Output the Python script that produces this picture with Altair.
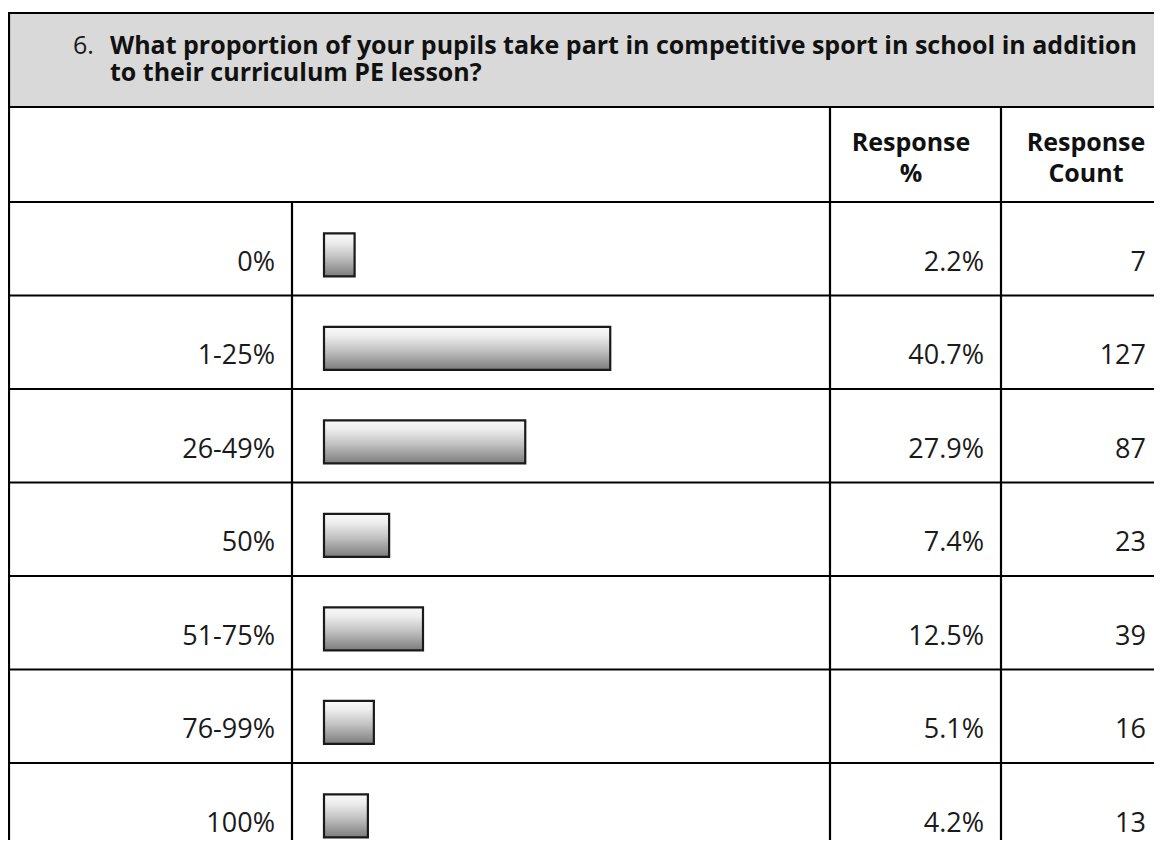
import altair as alt
import pandas as pd

# ---- data ----
categories = ["0%", "1-25%", "26-49%", "50%", "51-75%", "76-99%", "100%"]
response_pct = [2.2, 40.7, 27.9, 7.4, 12.5, 5.1, 4.2]
response_count = [7, 127, 87, 23, 39, 16, 13]

question_number = "6."
question_lines = [
    "What proportion of your pupils take part in competitive sport in school in addition",
    "to their curriculum PE lesson?",
]
header_pct = ["Response", "%"]
header_count = ["Response", "Count"]

df = pd.DataFrame({
    "category": categories,
    "pct": response_pct,
    "count": response_count,
    "row": list(range(len(categories))),
})
df["pct_label"] = [f"{p:.1f}%" for p in response_pct]
df["count_label"] = [str(c) for c in response_count]

W, H = 1146, 832
FONT = "Open Sans"
LINE = "#000000"
LW = 2.2
BODY = 27
HEAD = 25
TITLE = 25

yscale = alt.Scale(domain=[0, 7], range=[194, 848.5])
xscale = alt.Scale(domain=[0, 100], range=[332, 996])

one = alt.Data(values=[{"k": 1}])

# gray question band
band = alt.Chart(one).mark_rect(color="#d9d9d9").encode(
    x=alt.value(1), x2=alt.value(W), y=alt.value(5), y2=alt.value(99)
)

# horizontal lines
hl_top = alt.Chart(one).mark_rule(color=LINE, strokeWidth=LW).encode(
    x=alt.value(0), x2=alt.value(W), y=alt.value(5))
hl_band = alt.Chart(one).mark_rule(color=LINE, strokeWidth=LW).encode(
    x=alt.value(1), x2=alt.value(W), y=alt.value(99))
bounds = pd.DataFrame({"row": list(range(len(categories)))})
hl_rows = alt.Chart(bounds).mark_rule(color=LINE, strokeWidth=LW).encode(
    x=alt.value(1), x2=alt.value(W),
    y=alt.Y("row:Q", scale=yscale, axis=None))

# vertical lines
vl_left = alt.Chart(one).mark_rule(color=LINE, strokeWidth=LW).encode(
    x=alt.value(1), y=alt.value(5), y2=alt.value(H))
vl_bar = alt.Chart(one).mark_rule(color=LINE, strokeWidth=LW).encode(
    x=alt.value(284), y=alt.value(194), y2=alt.value(H))
vl_pct = alt.Chart(one).mark_rule(color=LINE, strokeWidth=LW).encode(
    x=alt.value(822), y=alt.value(99), y2=alt.value(H))
vl_cnt = alt.Chart(one).mark_rule(color=LINE, strokeWidth=LW).encode(
    x=alt.value(993), y=alt.value(99), y2=alt.value(H))

# bars
grad = alt.Gradient(
    gradient="linear",
    stops=[
        alt.GradientStop(color="#f8f9f9", offset=0),
        alt.GradientStop(color="#eeeeee", offset=0.2),
        alt.GradientStop(color="#c2c2c2", offset=0.55),
        alt.GradientStop(color="#7c7c7c", offset=1),
    ],
    x1=0, x2=0, y1=0, y2=1,
)
bars = alt.Chart(df).transform_calculate(
    y0="datum.row + 0.335", y1="datum.row + 0.795"
).mark_bar(color=grad, stroke="#1a1a1a", strokeWidth=2.2).encode(
    x=alt.X("pct:Q", scale=xscale, axis=None),
    x2=alt.value(316),
    y=alt.Y("y0:Q", scale=yscale, axis=None),
    y2="y1:Q",
)

base_txt = alt.Chart(df).transform_calculate(yb="datum.row + 0.735")
txt_style = dict(align="right", baseline="alphabetic", font=FONT,
                 fontSize=BODY, color="#1a1a1a")
cat_txt = base_txt.mark_text(**txt_style).encode(
    x=alt.value(267), y=alt.Y("yb:Q", scale=yscale, axis=None), text="category:N")
pct_txt = base_txt.mark_text(**txt_style).encode(
    x=alt.value(976), y=alt.Y("yb:Q", scale=yscale, axis=None), text="pct_label:N")
cnt_txt = base_txt.mark_text(**txt_style).encode(
    x=alt.value(1138), y=alt.Y("yb:Q", scale=yscale, axis=None), text="count_label:N")

# title
qnum = alt.Chart(one).mark_text(align="left", baseline="alphabetic", font=FONT,
                                fontSize=TITLE, color="#1a1a1a", text=question_number).encode(
    x=alt.value(65), y=alt.value(46))
qtext = alt.Chart(one).mark_text(align="left", baseline="alphabetic", font=FONT,
                                 fontSize=TITLE, fontWeight="bold", color="#111111",
                                 lineHeight=27, text=question_lines).encode(
    x=alt.value(102), y=alt.value(46))

h_pct = alt.Chart(one).mark_text(align="center", baseline="alphabetic", font=FONT,
                                 fontSize=HEAD, fontWeight="bold", color="#111111",
                                 lineHeight=31, text=header_pct).encode(
    x=alt.value(903), y=alt.value(143))
h_cnt = alt.Chart(one).mark_text(align="center", baseline="alphabetic", font=FONT,
                                 fontSize=HEAD, fontWeight="bold", color="#111111",
                                 lineHeight=31, text=header_count).encode(
    x=alt.value(1078), y=alt.value(143))

chart = alt.layer(
    band, hl_top, hl_band, hl_rows, vl_left, vl_bar, vl_pct, vl_cnt,
    bars, cat_txt, pct_txt, cnt_txt, qnum, qtext, h_pct, h_cnt
).properties(
    width=W, height=H, padding=0,
    autosize=alt.AutoSizeParams(type="none"),
    background="white",
).configure_view(stroke=None)

chart.save("out.html", embed_options={"renderer": "svg", "actions": False})
